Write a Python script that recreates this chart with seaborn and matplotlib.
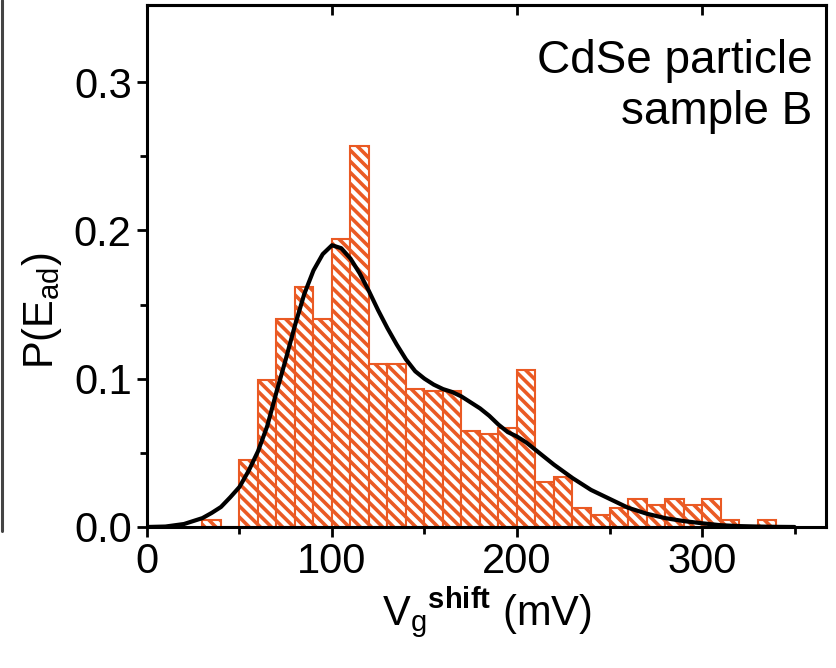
import pandas as pd
import matplotlib
matplotlib.use("Agg")
import matplotlib.pyplot as plt
import seaborn as sns
from matplotlib.lines import Line2D

# histogram: left edge of each 10 mV bin and its height
bin_width = 10
bin_left = list(range(30, 340, bin_width))
heights = [0.005, 0.0, 0.045, 0.099, 0.140, 0.162, 0.140, 0.194, 0.257, 0.110,
           0.110, 0.093, 0.092, 0.092, 0.065, 0.063, 0.067, 0.106, 0.030, 0.034,
           0.013, 0.008, 0.013, 0.019, 0.015, 0.019, 0.015, 0.019, 0.005, 0.0,
           0.005]

# smooth fit curve
curve_x = [0, 10, 20, 25, 30, 35, 40, 45, 50, 55, 60, 65, 70, 75, 80, 85, 90, 95,
           100, 105, 110, 115, 120, 125, 130, 135, 140, 145, 150, 155, 160, 165,
           170, 175, 180, 185, 190, 195, 200, 205, 210, 220, 230, 240, 250, 260,
           270, 280, 290, 300, 310, 320, 330, 340, 350]
curve_y = [0.0, 0.0003, 0.002, 0.004, 0.006, 0.0095, 0.0135, 0.020, 0.027, 0.038,
           0.051, 0.068, 0.091, 0.113, 0.136, 0.157, 0.173, 0.184, 0.190, 0.188,
           0.181, 0.171, 0.159, 0.146, 0.134, 0.123, 0.113, 0.105, 0.100, 0.096,
           0.093, 0.091, 0.088, 0.084, 0.080, 0.075, 0.069, 0.064, 0.061, 0.057,
           0.052, 0.042, 0.033, 0.025, 0.019, 0.013, 0.009, 0.006, 0.004, 0.0025,
           0.0012, 0.0006, 0.0003, 0.0001, 0.0]

orange = "#EA5A24"

sns.set_style("ticks")
plt.rcParams["font.family"] = ["Liberation Sans", "DejaVu Sans"]
plt.rcParams["mathtext.fontset"] = "custom"
plt.rcParams["mathtext.rm"] = "Liberation Sans"
plt.rcParams["mathtext.bf"] = "Liberation Sans:bold"
plt.rcParams["mathtext.default"] = "regular"
plt.rcParams["hatch.linewidth"] = 2.6
plt.rcParams["text.color"] = "black"
plt.rcParams["axes.labelcolor"] = "black"
plt.rcParams["xtick.color"] = "black"
plt.rcParams["ytick.color"] = "black"

df = pd.DataFrame({"mid": [b + bin_width / 2 for b in bin_left], "h": heights})
curve = pd.DataFrame({"x": curve_x, "y": curve_y})
edges = bin_left + [bin_left[-1] + bin_width]

fig = plt.figure(figsize=(8.36, 6.68), dpi=100)
ax = fig.add_axes([0.1758, 0.2111, 0.8122, 0.7814])

sns.histplot(data=df, x="mid", weights="h", bins=edges,
             facecolor="white", edgecolor=orange, hatch="\\\\\\",
             linewidth=1.5, alpha=1, ax=ax)
sns.lineplot(data=curve, x="x", y="y", color="black", linewidth=3.0, ax=ax)

ax.set_xlim(0, 367)
ax.set_ylim(0, 0.352)
ax.set_xticks([0, 100, 200, 300])
ax.set_xticks([50, 150, 250, 350], minor=True)
ax.set_yticks([0.0, 0.1, 0.2, 0.3])
ax.set_yticks([0.05, 0.15, 0.25], minor=True)
ax.set_yticklabels(["0.0", "0.1", "0.2", "0.3"])

for s in ax.spines.values():
    s.set_linewidth(2.2)
    s.set_color("black")
ax.tick_params(axis="both", which="major", direction="out", length=7, width=2,
               labelsize=30, pad=4)
ax.tick_params(axis="both", which="minor", direction="out", length=5, width=2)

# inward major ticks on the top edge
top = ax.secondary_xaxis("top")
top.set_xticks([0, 100, 200, 300])
top.tick_params(direction="in", length=7, width=2, labeltop=False)
top.spines["top"].set_linewidth(2.2)

ax.set_xlabel("V$_g$$^{\\mathbf{shift}}$ (mV)", fontsize=30, labelpad=2)
ax.set_ylabel("P(E$_{ad}$)", fontsize=30)
ax.yaxis.set_label_coords(-0.122, 0.415)

ax.text(0.98, 0.935, "CdSe particle\nsample B", transform=ax.transAxes,
        ha="right", va="top", multialignment="right", fontsize=33)

# edge of the neighbouring panel at the far left
fig.add_artist(Line2D([0.002, 0.002], [0.205, 1.0], transform=fig.transFigure,
                      color="#444444", linewidth=2.2))

fig.savefig("out.png", dpi=100)
